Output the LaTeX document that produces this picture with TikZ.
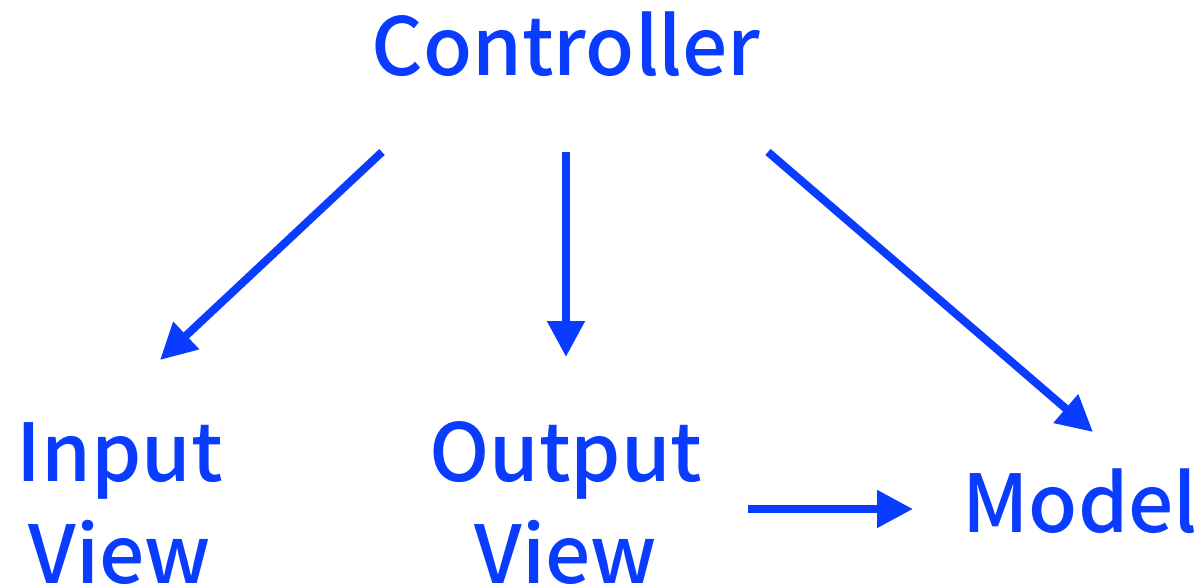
\documentclass[tikz,border=0pt]{standalone}
\usepackage{fontspec}
\setmainfont{Noto Sans CJK KR}[BoldFont={Noto Sans CJK KR Medium}]
\usetikzlibrary{arrows.meta}
\definecolor{mvcblue}{RGB}{10,60,255}

\begin{document}
\begin{tikzpicture}[x=1pt,y=-1pt,
    lbl/.style={text=mvcblue,font=\bfseries\fontsize{80}{102}\selectfont,align=center,anchor=base,inner sep=0pt},
    arr/.style={draw=mvcblue,line width=8pt,-{Triangle[length=36pt,width=36pt]}}]

    \useasboundingbox (0,0) rectangle (1200,588);

    % mvc
    \node[lbl] (ctrl) at (566,76) {Controller};
    \node[lbl] (in) at (120,583) {Input\\View};
    \node[lbl] (out) at (566,583) {Output\\View};
    \node[lbl] (model) at (1080,532) {Model};

    \draw[arr] ([shift={(-184,76)}]ctrl.base) to ([shift={(40,-223)}]in.base); % Controller -> Input View
    \draw[arr] ([shift={(0,76)}]ctrl.base) to ([shift={(0,-226)}]out.base); % Controller -> Output View
    \draw[arr] ([shift={(202,76)}]ctrl.base) to ([shift={(13,-100)}]model.base); % Controller -> Model
    \draw[arr] ([shift={(182,-74)}]out.base) to ([shift={(-167,-23)}]model.base); % Output View -> Model

\end{tikzpicture}
\end{document}
